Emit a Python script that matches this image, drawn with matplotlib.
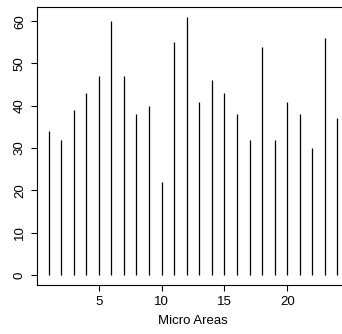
import numpy as np
import matplotlib
matplotlib.use("Agg")
import matplotlib.pyplot as plt

plt.rcParams['font.family'] = ['Liberation Sans', 'DejaVu Sans']

areas = list(range(1, 25))
counts = [34, 32, 39, 43, 47, 60, 47, 38, 40, 22, 55, 61,
          41, 46, 43, 38, 32, 54, 32, 41, 38, 30, 56, 37]
xticks = [5, 10, 15, 20]
yticks = [0, 10, 20, 30, 40, 50, 60]

fig = plt.figure(figsize=(3.42, 3.34), dpi=100)
ax = fig.add_axes([37/342, 48.7/334, 312/342, 278.7/334])

# R style type="h" plot
ax.vlines(areas, 0, counts, color='black', linewidth=0.9)
ax.set_xlim(0.08, 24.92)
ax.set_ylim(-2.44, 63.44)

ax.set_xticks(xticks)
ax.set_yticks(yticks)
ax.set_yticklabels([str(v) for v in yticks], rotation=90, va='center')
ax.tick_params(labelsize=9.5, length=4, width=0.8, pad=4)
ax.set_xlabel('Micro Areas', fontsize=9.5, labelpad=5)
for s in ax.spines.values():
    s.set_linewidth(0.8)

fig.savefig('out.png', dpi=100)
